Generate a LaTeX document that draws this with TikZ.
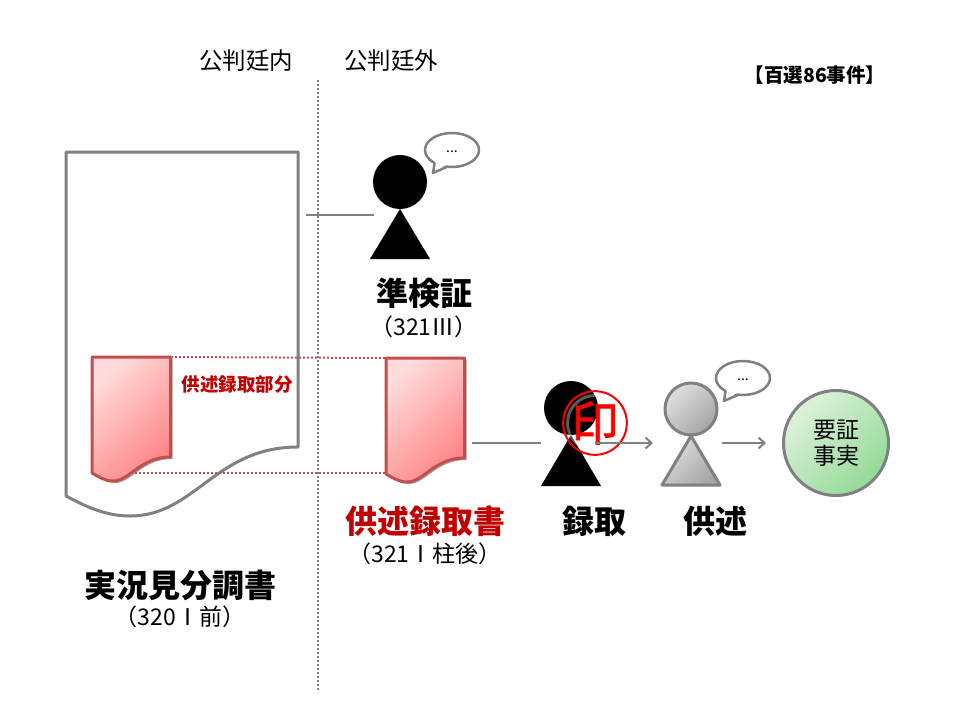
\documentclass[tikz,border=0pt]{standalone}
\usepackage{fontspec}
\setmainfont{Noto Sans CJK JP}
\newfontfamily\sealfont[FakeBold=1.5]{Noto Sans CJK JP}
\usetikzlibrary{arrows.meta, positioning, calc, shadows}
\definecolor{linegray}{HTML}{808080}
\definecolor{recred}{HTML}{C0504D}
\definecolor{titlered}{HTML}{C00000}
\definecolor{factlight}{HTML}{DDF2DB}
\definecolor{factdark}{HTML}{94DA97}
\tikzset{
    courtlabel/.style={inner sep=0pt, font=\fontsize{23.5}{25}\selectfont},
    citetext/.style={inner sep=0pt, font=\fontsize{23}{25}\selectfont},
    titletext/.style={inner sep=0pt, font=\fontsize{32}{34}\selectfont\bfseries},
    conn/.style={draw=linegray, line width=2pt},
    head/.style={circle, fill=black, inner sep=0pt, minimum size=54pt},
    grayperson/.style={draw=linegray, line width=3pt, top color=gray!25, bottom color=gray!70, shading angle=45},
    recdoc/.pic={
        \path[draw=recred, line width=3pt, line join=round, top color=red!14, bottom color=red!48, shading angle=45,
              drop shadow={shadow xshift=2pt, shadow yshift=-2pt, opacity=.35, fill=black}]
            (0,0) -- (78.5,0) -- (78.5,100) .. controls (48,100) and (38,124) .. (21,124)
            .. controls (13,124) and (7,120) .. (0,116) -- cycle;
    },
    bubble/.pic={
        \draw[linegray, line width=2.5pt, fill=white] (0,0) ellipse [x radius=27, y radius=17];
        \fill[white] (-16.5,11) -- (-18,20) -- (-5,15) -- cycle;
        \draw[linegray, line width=2.5pt, line join=round] (-17.4,13) -- (-19,23) -- (-4.7,16.7);
    },
}
\begin{document}
\begin{tikzpicture}[x=1pt, y=-1pt, >={Straight Barb[length=6pt, width=11pt]}]
    \useasboundingbox (0,0) rectangle (960,720);

    % court line
    \coordinate (lineTop) at (318,80);
    \coordinate (lineBot) at (318,692);
    \draw[linegray, line width=2pt, dotted] (lineTop) -- (lineBot);
    \node[courtlabel] (inCourt) at (246,61) {公判廷内};
    \node[courtlabel] (outCourt) at (391,61) {公判廷外};
    \node[inner sep=0pt, font=\fontsize{19.5}{21}\selectfont\bfseries] (caseNo) at (815,75) {【百選86事件】};

    % report sheet
    \draw[linegray, line width=3pt, line join=round]
        (66,152) -- (298,152) -- (298,447) .. controls (215,447) and (195,516) .. (130,516)
        .. controls (105,516) and (85,506) .. (66,496) -- cycle;
    \node[titletext] (report) at (180,585) {実況見分調書};
    \node[citetext] (reportCite) at (180,617) {（320Ⅰ前）};

    % recorded parts
    \pic at (92,357) {recdoc};
    \pic at (386,358) {recdoc};
    \coordinate (partTopL) at (171,357);
    \coordinate (partTopR) at (386,358);
    \coordinate (partBotL) at (135,473);
    \coordinate (partBotR) at (386,473);
    \draw[recred, line width=2pt, dotted] (partTopL) -- (partTopR);
    \draw[recred, line width=2pt, dotted] (partBotL) -- (partBotR);
    \node[inner sep=0pt, text=titlered, font=\fontsize{18.5}{20}\selectfont\bfseries] (partLabel) at (237,385) {供述録取部分};
    \node[titletext, text=titlered] (record) at (425,521) {供述録取書};
    \node[citetext] (recordCite) at (425,554) {（321Ⅰ柱後）};

    % police officer
    \node[head] (officer) at (400,182) {};
    \fill[black, line join=round] (400,209) -- (430,259) -- (370,259) -- cycle;
    \pic at (452,150) {bubble};
    \node[inner sep=0pt, font=\fontsize{14}{15}\selectfont] (officerTalk) at (452,152) {...};
    \coordinate (officerEnd) at (306,215);
    \coordinate (officerLine) at (374,215);
    \draw[conn] (officerEnd) -- (officerLine);
    \node[titletext] (officerName) at (424,293) {準検証};
    \node[citetext] (officerCite) at (424,327) {（321Ⅲ）};

    % recorder
    \node[head] (recorder) at (571,408) {};
    \fill[black, line join=round] (571,435) -- (601,486) -- (541,486) -- cycle;
    \draw[white, opacity=.35, line width=3pt] (595,423) circle (27.5);
    \node[circle, draw=red, line width=2pt, inner sep=0pt, minimum size=60pt, text=red,
          font=\fontsize{47}{49}\sealfont] (seal) at (595,423) {印};
    \node[titletext] (recorderName) at (594,521) {録取};
    \coordinate (recordOut) at (472,443);
    \coordinate (recorderIn) at (541,443);
    \draw[conn] (recordOut) -- (recorderIn);

    % speaker
    \node[circle, grayperson, inner sep=0pt, minimum size=52pt] (speaker) at (691,409) {};
    \path[grayperson, line join=round] (691,436) -- (720,485) -- (662,485) -- cycle;
    \pic at (743,378) {bubble};
    \node[inner sep=0pt, font=\fontsize{14}{15}\selectfont] (speakerTalk) at (743,380) {...};
    \node[titletext] (speakerName) at (715,521) {供述};
    \coordinate (sealOut) at (595,443);
    \coordinate (speakerIn) at (653,443);
    \draw[conn, ->] (sealOut) -- (speakerIn);

    % fact to prove
    \node[circle, draw=linegray, line width=3pt, top color=factlight, bottom color=factdark, shading angle=45,
          minimum size=105pt, inner sep=0pt, align=center, font=\fontsize{23}{26}\selectfont] (fact) at (836,443) {要証\\事実};
    \coordinate (speakerOut) at (722,443);
    \draw[conn, ->] (speakerOut) -- ([xshift=-16pt]fact.west);
\end{tikzpicture}
\end{document}
